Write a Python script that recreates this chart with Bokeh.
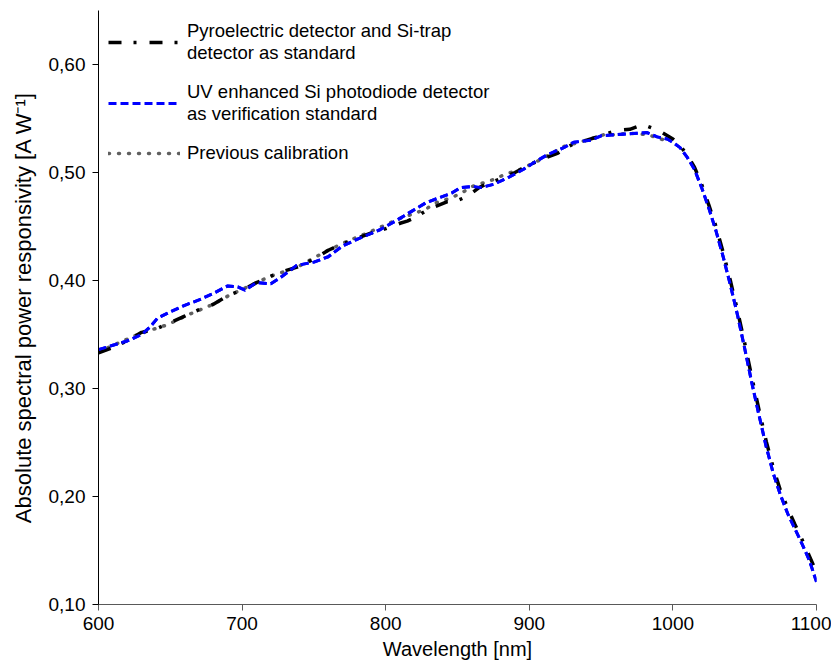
from bokeh.plotting import figure
from bokeh.models import (Range1d, FixedTicker, CustomJSTickFormatter, Legend, LegendItem)
from bokeh.embed import file_html
from bokeh.resources import INLINE

# Pyroelectric detector and Si-trap detector as standard
pyro_wl = [600, 610, 620, 630, 640, 650, 660, 670, 680, 690, 700, 710, 720, 730, 740, 750,
           760, 770, 780, 790, 800, 810, 815, 820, 830, 843, 850, 857, 865, 871, 880, 890,
           900, 910, 920, 930, 940, 950, 961, 970, 976, 982, 990, 1000, 1005, 1010, 1015,
           1020, 1025, 1030, 1035, 1040, 1045, 1050, 1055, 1060, 1065, 1070, 1075, 1080,
           1085, 1090, 1095, 1100]
pyro_r = [0.333, 0.338, 0.344, 0.352, 0.355, 0.361, 0.367, 0.373, 0.378, 0.386, 0.391, 0.398,
          0.404, 0.409, 0.413, 0.420, 0.428, 0.434, 0.439, 0.444, 0.448, 0.453, 0.455, 0.458,
          0.466, 0.473, 0.474, 0.478, 0.486, 0.490, 0.494, 0.500, 0.507, 0.513, 0.518, 0.526,
          0.530, 0.534, 0.539, 0.540, 0.543, 0.543, 0.539, 0.531, 0.525, 0.516, 0.505,
          0.489, 0.470, 0.450, 0.426, 0.400, 0.372, 0.342, 0.310, 0.280, 0.251, 0.226,
          0.205, 0.189, 0.174, 0.160, 0.145, 0.130]

# UV enhanced Si photodiode detector as verification standard
uv_wl = [600, 610, 620, 630, 636, 641, 650, 660, 670, 680, 690, 697, 702, 710, 720, 727, 738,
         750, 760, 770, 785, 796, 808, 818, 828, 836, 846, 852, 861, 866, 875, 885, 896, 903,
         912, 924, 931, 943, 950, 960, 972, 982, 989, 996, 1000, 1005, 1010, 1015, 1020,
         1025, 1030, 1035, 1040, 1045, 1050, 1055, 1060, 1065, 1070, 1075, 1080, 1085,
         1090, 1095, 1100]
uv_r = [0.336, 0.340, 0.344, 0.350, 0.357, 0.365, 0.371, 0.377, 0.382, 0.388, 0.395, 0.394,
        0.391, 0.398, 0.397, 0.403, 0.414, 0.417, 0.422, 0.432, 0.441, 0.447, 0.456, 0.464,
        0.472, 0.476, 0.481, 0.486, 0.487, 0.486, 0.489, 0.495, 0.503, 0.509, 0.516, 0.523,
        0.528, 0.530, 0.534, 0.535, 0.536, 0.537, 0.533, 0.531, 0.528, 0.523, 0.514, 0.503,
        0.486, 0.467, 0.446, 0.422, 0.396, 0.368, 0.337, 0.305, 0.275, 0.246, 0.221, 0.201,
        0.184, 0.170, 0.156, 0.141, 0.121]

# Previous calibration
prev_wl = [600, 617, 629, 648, 662, 680, 692, 699, 713, 724, 738, 757, 771, 789, 809, 822, 829,
           835, 842, 848, 854, 860, 867, 874, 881, 887, 894, 908, 924, 940, 952, 960, 967, 974,
           983, 987, 994]
prev_r = [0.334, 0.344, 0.351, 0.359, 0.368, 0.378, 0.387, 0.391, 0.400, 0.406, 0.412, 0.426,
          0.435, 0.445, 0.457, 0.463, 0.467, 0.472, 0.475, 0.478, 0.482, 0.487, 0.490, 0.493,
          0.497, 0.500, 0.503, 0.512, 0.524, 0.530, 0.535, 0.535, 0.536, 0.536, 0.535, 0.533,
          0.530]

y_ticks = [0.1, 0.2, 0.3, 0.4, 0.5, 0.6]
x_ticks = [600, 700, 800, 900, 1000, 1100]

FONT = "Liberation Sans"

p = figure(width=831, height=662, output_backend="svg", toolbar_location=None,
           x_range=Range1d(600, 1100), y_range=Range1d(0.1, 0.65),
           min_border_left=98, min_border_right=15, min_border_top=10, min_border_bottom=54)
p.outline_line_color = None
p.xgrid.visible = False
p.ygrid.visible = False

r_prev = p.line(prev_wl, prev_r, line_color="#606060", line_width=3.5, line_dash="1 9",
                line_cap="round")
r_uv = p.line(uv_wl, uv_r, line_color="#0000ff", line_width=3, line_dash="8 4")
r_pyro = p.line(pyro_wl, pyro_r, line_color="#000000", line_width=3.5, line_dash="13 12 3 13")
# blue drawn again on top, as in the reference
r_uv2 = p.line(uv_wl, uv_r, line_color="#0000ff", line_width=3, line_dash="8 4")

legend = Legend(items=[
    LegendItem(label="Pyroelectric detector and Si-trap\ndetector as standard", renderers=[r_pyro]),
    LegendItem(label="UV enhanced Si photodiode detector\nas verification standard", renderers=[r_uv]),
    LegendItem(label="Previous calibration", renderers=[r_prev]),
], location="top_left")
legend.border_line_color = None
legend.background_fill_alpha = 0
legend.label_text_font = FONT
legend.label_text_font_size = "18.5px"
legend.label_text_color = "#000000"
legend.label_text_line_height = 1.25
legend.glyph_width = 72
legend.glyph_height = 20
legend.label_standoff = 7
legend.spacing = 17
legend.margin = 10
legend.padding = 13
p.add_layout(legend)

for ax in (p.xaxis[0], p.yaxis[0]):
    ax.major_label_text_font = FONT
    ax.major_label_text_font_size = "19px"
    ax.major_label_text_color = "#000000"
    ax.axis_label_text_font = FONT
    ax.axis_label_text_font_style = "normal"
    ax.axis_label_text_color = "#000000"
    ax.minor_tick_line_color = None
    ax.major_tick_in = 0
    ax.major_tick_out = 6

p.xaxis.axis_label = "Wavelength [nm]"
p.xaxis.axis_label_text_font_size = "20px"
p.xaxis.ticker = FixedTicker(ticks=x_ticks)
p.xaxis.axis_line_color = "#595959"
p.xaxis.major_tick_line_color = "#595959"
p.xaxis.major_label_standoff = 6
p.xaxis.axis_label_standoff = 5

p.yaxis.axis_label = "Absolute spectral power responsivity [A W\u207b\u00b9]"
p.yaxis.axis_label_text_font_size = "22px"
p.yaxis.ticker = FixedTicker(ticks=y_ticks)
p.yaxis.formatter = CustomJSTickFormatter(code="return tick.toFixed(2).replace('.', ',');")
p.yaxis.axis_line_color = "#000000"
p.yaxis.major_tick_line_color = "#000000"
p.yaxis.major_label_standoff = 7
p.yaxis.axis_label_standoff = 10

open("out.html", "w").write(file_html(p, INLINE))
